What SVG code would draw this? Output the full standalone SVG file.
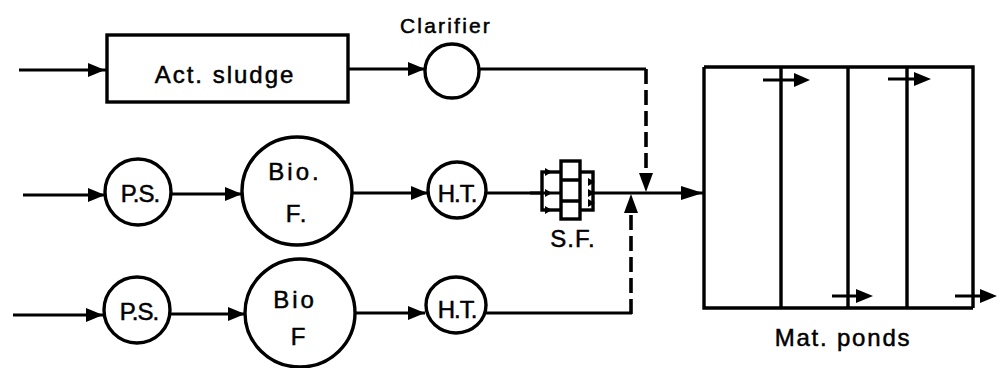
<svg xmlns="http://www.w3.org/2000/svg" width="1000" height="368" viewBox="0 0 1000 368">
<style>
.s{fill:none;stroke:#000;stroke-width:3.4}
.n{fill:#fff;stroke:#000;stroke-width:3.4}
.l{fill:none;stroke:#000;stroke-width:3}
.d{fill:none;stroke:#000;stroke-width:3.6;stroke-dasharray:15 6}
.h{fill:#000;stroke:none}
text{font-family:"Liberation Sans",Arial,sans-serif;fill:#000;stroke:#000;stroke-width:.5;text-anchor:middle}
.t{font-size:24px;letter-spacing:2px}
.m{font-size:24px;letter-spacing:-1px}
</style>
<defs>
<path id="a" class="h" d="M-17,-7 L0,0 L-17,7 Z"/>
<path id="b" class="h" d="M-22,-7 L0,0 L-22,7 Z"/>
</defs>
<g id="connectors">
<path class="l" d="M19,70 H107"/><use href="#a" x="105" y="70"/>
<path class="l" d="M348,69 H425"/><use href="#a" x="425" y="69"/>
<path class="l" d="M479,69 H646"/>
<path class="d" d="M646,69 V174"/><path class="h" d="M639,173 H653 L646,192 Z"/>
<path class="l" d="M23,195 H105"/><use href="#a" x="105" y="195"/>
<path class="l" stroke-width="4" d="M172,194 H242"/><use href="#a" x="242" y="194"/>
<path class="l" d="M352,193 H428"/><use href="#a" x="428" y="193"/>
<path class="l" d="M487,193 H704"/><use href="#b" x="703" y="193"/>
<path class="l" d="M13,315 H103"/><use href="#a" x="103" y="315"/>
<path class="l" d="M170,314 H245"/><use href="#a" x="245" y="314"/>
<path class="l" d="M355,313 H425"/><use href="#a" x="425" y="313"/>
<path class="l" d="M486,313 H632"/>
<path class="d" d="M631,314 V212"/><path class="h" d="M624,213 H638 L631,194 Z"/>
</g>
<g id="act-sludge"><rect class="n" x="107" y="35" width="241" height="67"/><text class="t" x="225" y="83" style="font-size:24px;letter-spacing:2px">Act. sludge</text></g>
<g id="clarifier"><circle class="n" cx="452" cy="71" r="27"/><text class="t" x="446" y="33" style="font-size:21px;letter-spacing:2.2px">Clarifier</text></g>
<g id="ps1"><ellipse class="n" cx="138" cy="192" rx="33" ry="33"/><text class="m" x="140" y="202">P.S.</text></g>
<g id="bio1"><ellipse class="n" cx="297" cy="191" rx="55" ry="54"/><text class="t" x="295" y="180" style="letter-spacing:3px">Bio.</text><text class="t" x="297" y="222">F.</text></g>
<g id="ht1"><ellipse class="n" cx="457" cy="190" rx="29" ry="28"/><text class="m" x="457" y="202">H.T.</text></g>
<g id="ps2"><ellipse class="n" cx="137" cy="310" rx="33" ry="33"/><text class="m" x="139" y="320">P.S.</text></g>
<g id="bio2"><ellipse class="n" cx="300" cy="313" rx="55" ry="54"/><text class="t" x="295" y="308" style="letter-spacing:3px">Bio</text><text class="t" x="299" y="345">F</text></g>
<g id="ht2"><ellipse class="n" cx="456" cy="305" rx="30" ry="28"/><text class="m" x="457" y="318">H.T.</text></g>
<g id="sf">
<path class="l" d="M530,193 H561"/>
<rect class="n" x="542" y="172" width="51" height="38"/>
<rect class="n" x="561" y="161" width="19" height="58"/>
<path class="s" d="M561,180 H580 M561,201 H580"/>
<path class="l" d="M542,193 H561"/>
<path class="h" d="M545,168 L552,172 L545,176 Z M545,189 L552,193 L545,197 Z M545,206 L552,210 L545,214 Z M588,178 L595,182 L588,186 Z M588,189 L595,193 L588,197 Z M588,199 L595,203 L588,207 Z"/>
<text class="t" x="573" y="247" style="letter-spacing:1px">S.F.</text>
</g>
<g id="mat-ponds">
<path class="s" d="M704,67 H973 V308 M704,67 V308 H973"/>
<path class="s" d="M781,67 V308 M848,67 V308 M907,67 V308"/>
<path class="l" d="M763,80 H795 M888,79 H915 M832,296 H860 M955,296 H985"/>
<path class="h" d="M794,73 L810,80 L794,87 Z M914,72 L931,79 L914,86 Z M856,289 L873,296 L856,303 Z M980,289 L997,296 L980,303 Z"/>
<text class="t" x="843" y="346" style="font-size:24px;letter-spacing:1.8px">Mat. ponds</text>
</g>
</svg>
